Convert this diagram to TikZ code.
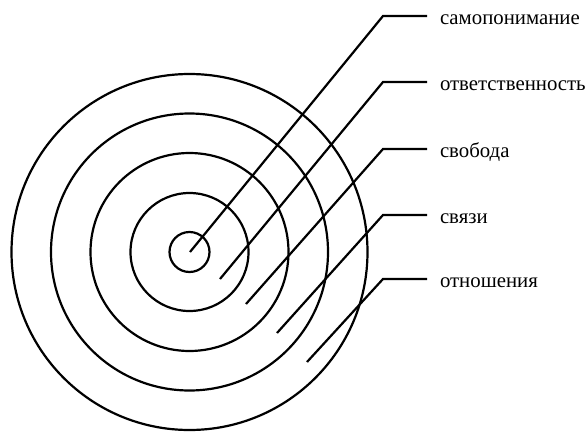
\documentclass[tikz,border=0pt]{standalone}
\usepackage{fontspec}
\setmainfont{Liberation Serif}
\newfontfamily\labelfont{Liberation Serif}

\begin{document}
\begin{tikzpicture}[x=1pt,y=-1pt,
  ring/.style={draw=black, line width=2.2pt},
  leader/.style={draw=black, line width=2.2pt, line join=miter},
  lbl/.style={anchor=west, inner xsep=13pt, inner ysep=0pt, outer sep=0pt,
    text height=16pt, text depth=0pt, font={\labelfont\fontsize{20.8}{25}\selectfont}}]
\useasboundingbox (0,0) rectangle (588,431);
\coordinate (c) at (189.5,252);
\draw[ring] (c) circle[radius=20];
\draw[ring] (c) circle[radius=59];
\draw[ring] (c) circle[radius=99];
\draw[ring] (c) circle[radius=138.5];
\draw[ring] (c) circle[radius=178];
% labels on the right
\node[lbl] (l1) at (427,16) {самопонимание};
\node[lbl] (l2) at (427,82) {ответственность};
\node[lbl] (l3) at (427,149) {свобода};
\node[lbl] (l4) at (427,215) {связи};
\node[lbl] (l5) at (427,279) {отношения};
% leader start points and kinks
\coordinate (s1) at (190,252);
\coordinate (s2) at (220,279);
\coordinate (s3) at (246,304);
\coordinate (s4) at (277,333);
\coordinate (s5) at (307,362);
\coordinate (k1) at (383,16);
\coordinate (k2) at (383,82);
\coordinate (k3) at (383,149);
\coordinate (k4) at (383,215);
\coordinate (k5) at (383,279);
\draw[leader] (s1) -- (k1) -- (l1.west);
\draw[leader] (s2) -- (k2) -- (l2.west);
\draw[leader] (s3) -- (k3) -- (l3.west);
\draw[leader] (s4) -- (k4) -- (l4.west);
\draw[leader] (s5) -- (k5) -- (l5.west);
\end{tikzpicture}
\end{document}
